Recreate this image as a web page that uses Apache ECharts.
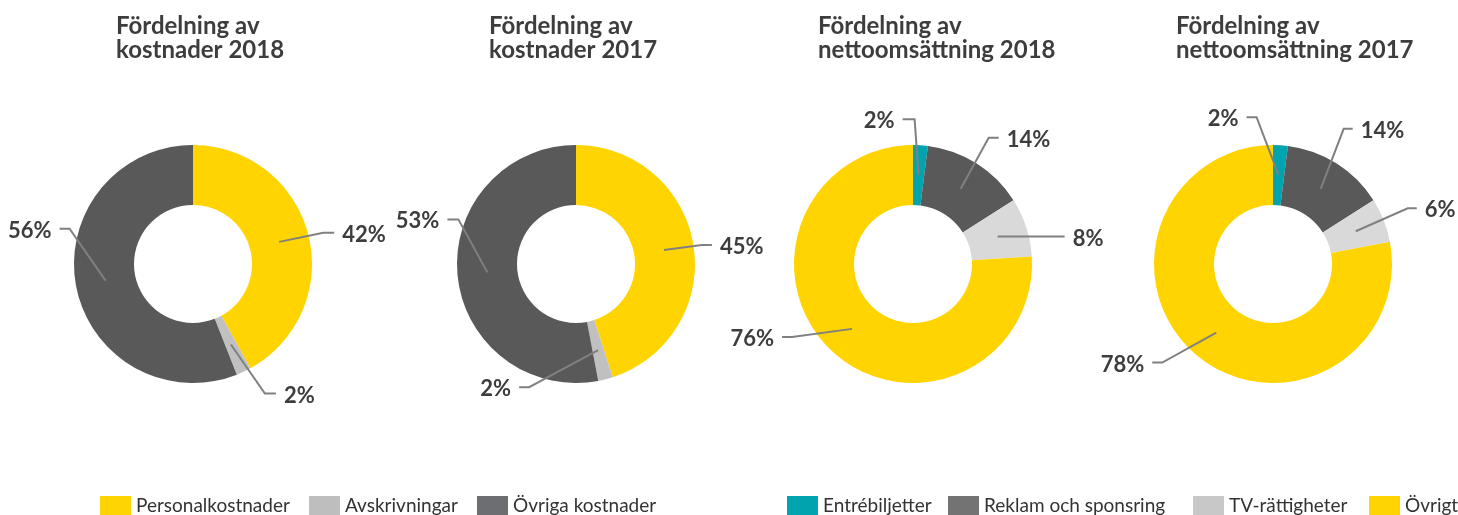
<!DOCTYPE html>
<html>
<head>
<meta charset="utf-8">
<script src="https://cdn.jsdelivr.net/npm/echarts@6/dist/echarts.min.js"></script>
<style>
  html, body { margin: 0; padding: 0; background: #fff; }
  #chart { width: 1458px; height: 515px; }
</style>
</head>
<body>
<div id="chart"></div>
<script>
// ---- Data ----
const costCategories = ['Personalkostnader', 'Avskrivningar', 'Övriga kostnader'];
const costs2018 = [42, 2, 56];
const costs2017 = [45, 2, 53];

const revenueCategories = ['Entrébiljetter', 'Reklam och sponsring', 'TV-rättigheter', 'Övrigt'];
const revenue2018 = [2, 14, 8, 76];
const revenue2017 = [2, 14, 6, 78];

const chartTitles = [
  'Fördelning av\nkostnader 2018',
  'Fördelning av\nkostnader 2017',
  'Fördelning av\nnettoomsättning 2018',
  'Fördelning av\nnettoomsättning 2017'
];

// ---- Colours ----
const costSliceColors = ['#FFD400', '#C0C0C0', '#595959'];
const costLegendColors = ['#FFD400', '#BEBEBE', '#6D6E71'];
const revenueSliceColors = ['#00A3AE', '#595959', '#D9D9D9', '#FFD400'];
const revenueLegendColors = ['#00A3AE', '#737373', '#C8C8C8', '#FFD400'];

// ---- Layout ----
const FONT = 'Lato, "Open Sans", sans-serif';
const TEXT_COLOR = '#3d3d3d';
const CY = 264, R_OUT = 119, R_IN = 59, R_ANCHOR = 89;
const LABEL_GAP = 8;
const costLegendLeft = [100, 309, 477];
const revenueLegendLeft = [787, 948, 1193, 1369];

// Leader lines: [elbow dx, elbow dy, horizontal tail] measured from the slice anchor
const panels = [
  { cx: 193, titleX: 116, cats: costCategories, values: costs2018, colors: costSliceColors,
    leaders: [[44, -9, 11], [34, 49, 11], [-36, -52, -10]] },
  { cx: 576, titleX: 489, cats: costCategories, values: costs2017, colors: costSliceColors,
    leaders: [[38, -5, 10], [-69, 37, -10], [-29, -53, -11]] },
  { cx: 913, titleX: 818, cats: revenueCategories, values: revenue2018, colors: revenueSliceColors,
    leaders: [[-4, -56, -12], [28, -51, 10], [60, 0, 7], [-60, 8, -10]] },
  { cx: 1273, titleX: 1176, cats: revenueCategories, values: revenue2017, colors: revenueSliceColors,
    leaders: [[-22, -58, -10], [23, -60, 9], [52, -23, 9], [-54, 30, -10]] }
];

function leaderLayout(panel) {
  return function (params) {
    const pts = params.labelLinePoints;
    if (!pts) return {};
    // the library anchors the line on the outer rim; pull it into the ring
    const k = R_ANCHOR / R_OUT;
    const ax = panel.cx + (pts[0][0] - panel.cx) * k;
    const ay = CY + (pts[0][1] - CY) * k;
    const leg = panel.leaders[params.dataIndex];
    const bx = ax + leg[0], by = ay + leg[1];
    const tx = bx + leg[2];
    const dir = leg[2] >= 0 ? 1 : -1;
    return {
      x: tx + dir * LABEL_GAP,
      y: by + 2,
      align: dir > 0 ? 'left' : 'right',
      verticalAlign: 'middle',
      labelLinePoints: [[ax, ay], [bx, by], [tx, by]]
    };
  };
}

function legendItem(name, color, left) {
  return {
    left: left, top: 496, itemWidth: 31, itemHeight: 20, padding: 0,
    icon: 'rect', selectedMode: false,
    textStyle: { fontFamily: FONT, fontSize: 19, color: '#333333' },
    data: [{ name: name, itemStyle: { color: color } }]
  };
}

const chart = echarts.init(document.getElementById('chart'));

// visible rings
const ringSeries = panels.map(p => ({
  type: 'pie',
  z: 2,
  center: [p.cx, CY],
  radius: [R_IN, R_OUT],
  startAngle: 90,
  clockwise: true,
  silent: true,
  emphasis: { disabled: true },
  itemStyle: { borderWidth: 0 },
  label: { show: false },
  labelLine: { show: false },
  data: p.cats.map((n, i) => ({ name: n, value: p.values[i], itemStyle: { color: p.colors[i] } }))
}));

// transparent twin rings on top, carrying the percentage labels and leader lines
const labelSeries = panels.map(p => ({
  type: 'pie',
  z: 5,
  center: [p.cx, CY],
  radius: [R_IN, R_OUT],
  startAngle: 90,
  clockwise: true,
  avoidLabelOverlap: false,
  silent: true,
  emphasis: { disabled: true },
  itemStyle: { color: 'rgba(0,0,0,0)', borderWidth: 0 },
  label: {
    show: true,
    formatter: '{c}%',
    fontFamily: FONT,
    fontSize: 22,
    fontWeight: 'bold',
    color: TEXT_COLOR
  },
  labelLine: { show: true, length: 10, length2: 10, lineStyle: { color: '#808080', width: 2 } },
  labelLayout: leaderLayout(p),
  data: p.cats.map((n, i) => ({ name: n, value: p.values[i] }))
}));

const option = {
  animation: false,
  backgroundColor: '#ffffff',
  title: panels.map((p, i) => ({
    text: chartTitles[i],
    left: p.titleX,
    top: 14,
    padding: 0,
    textStyle: { fontFamily: FONT, fontSize: 24, fontWeight: 'bold', color: TEXT_COLOR, lineHeight: 24 }
  })),
  legend: costCategories.map((n, i) => legendItem(n, costLegendColors[i], costLegendLeft[i]))
    .concat(revenueCategories.map((n, i) => legendItem(n, revenueLegendColors[i], revenueLegendLeft[i]))),
  series: ringSeries.concat(labelSeries)
};

chart.setOption(option);
</script>
</body>
</html>
